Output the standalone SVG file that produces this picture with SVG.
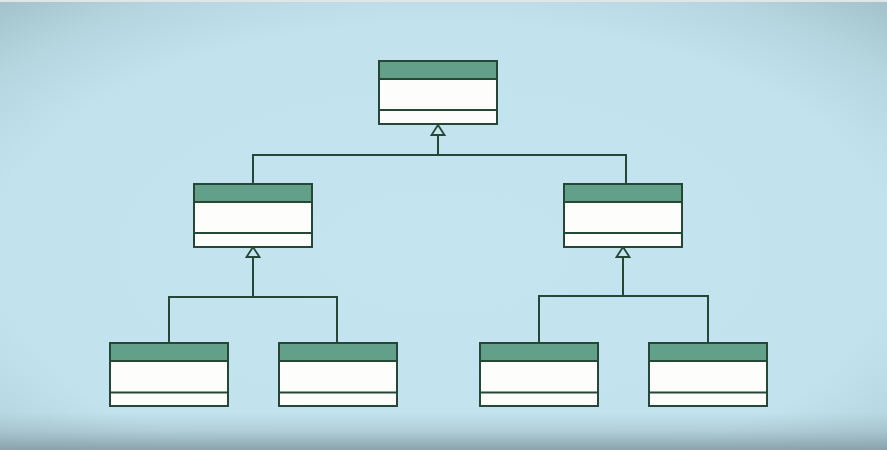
<svg xmlns="http://www.w3.org/2000/svg" width="887" height="450" viewBox="0 0 887 450">
<defs>
<radialGradient id="bg" cx="0.5" cy="0.56" r="0.75">
<stop offset="0" stop-color="#c4e5ef"/>
<stop offset="0.68" stop-color="#c2e3ed"/>
<stop offset="0.85" stop-color="#b5d5df"/>
<stop offset="1" stop-color="#a2c1cb"/>
</radialGradient>
<linearGradient id="bottom" x1="0" y1="0" x2="0" y2="1">
<stop offset="0" stop-color="#8da7b0" stop-opacity="0"/>
<stop offset="0.5" stop-color="#8da7b0" stop-opacity="0.35"/>
<stop offset="1" stop-color="#889fa7" stop-opacity="0.95"/>
</linearGradient>
<style>
.box rect{stroke:#264636;stroke-width:2}
.hdr{fill:#62a08a}
.body{fill:#fdfdfb}
.div{stroke:#264636;stroke-width:2}
#connectors path{stroke:#264636;stroke-width:2;fill:none}
#connectors polygon{fill:#c4e5ef;stroke:#264636;stroke-width:1.8}
</style>
</defs>
<rect width="887" height="450" fill="url(#bg)"/>
<rect x="0" y="412" width="887" height="38" fill="url(#bottom)"/>
<rect x="0" y="0" width="887" height="2" fill="#e0e6e8"/>
<g id="connectors">
<path d="M438 135V155M253 184V155H626V184"/>
<polygon points="438,125 431.5,135 444.5,135"/>
<path d="M253 257V297M169 343V297H337V343"/>
<polygon points="253,247 246.5,257 259.5,257"/>
<path d="M623 257V296M539 343V296H708V343"/>
<polygon points="623,247 616.5,257 629.5,257"/>
</g>
<g id="top" class="box">
<rect class="body" x="379" y="61" width="118" height="63"/>
<rect class="hdr" x="379" y="61" width="118" height="18"/>
<line class="div" x1="379" y1="110" x2="497" y2="110"/>
</g>
<g id="midLeft" class="box">
<rect class="body" x="194" y="184" width="118" height="63"/>
<rect class="hdr" x="194" y="184" width="118" height="18"/>
<line class="div" x1="194" y1="233" x2="312" y2="233"/>
</g>
<g id="midRight" class="box">
<rect class="body" x="564" y="184" width="118" height="63"/>
<rect class="hdr" x="564" y="184" width="118" height="18"/>
<line class="div" x1="564" y1="233" x2="682" y2="233"/>
</g>
<g id="leaf1" class="box">
<rect class="body" x="110" y="343" width="118" height="63"/>
<rect class="hdr" x="110" y="343" width="118" height="18"/>
<line class="div" x1="110" y1="392.5" x2="228" y2="392.5"/>
</g>
<g id="leaf2" class="box">
<rect class="body" x="279" y="343" width="118" height="63"/>
<rect class="hdr" x="279" y="343" width="118" height="18"/>
<line class="div" x1="279" y1="392.5" x2="397" y2="392.5"/>
</g>
<g id="leaf3" class="box">
<rect class="body" x="480" y="343" width="118" height="63"/>
<rect class="hdr" x="480" y="343" width="118" height="18"/>
<line class="div" x1="480" y1="392.5" x2="598" y2="392.5"/>
</g>
<g id="leaf4" class="box">
<rect class="body" x="649" y="343" width="118" height="63"/>
<rect class="hdr" x="649" y="343" width="118" height="18"/>
<line class="div" x1="649" y1="392.5" x2="767" y2="392.5"/>
</g>
</svg>
